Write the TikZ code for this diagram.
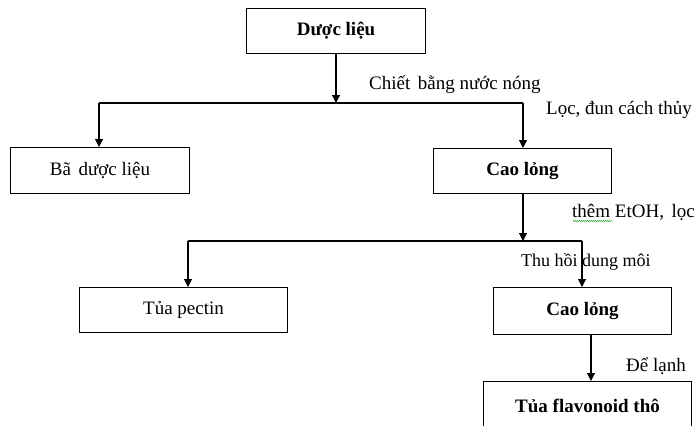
\documentclass[tikz,border=0pt]{standalone}
\usepackage{fontspec}
\setmainfont{Liberation Serif}
\usetikzlibrary{arrows.meta,decorations.pathmorphing}
\newcommand{\wsp}{\hspace{0.4em}}
\begin{document}
\begin{tikzpicture}[x=1pt,y=-1pt,
  every node/.style={font=\fontsize{19}{21}\selectfont},
  box/.style={draw, line width=1.1pt, inner sep=0pt, anchor=north west},
  lbl/.style={anchor=west, inner sep=0pt},
  link/.style={line width=1.1pt},
  arr/.style={line width=1.1pt, -{Triangle[length=8pt,width=8pt]}}]
\useasboundingbox (0,0) rectangle (697,426);

% boxes
\node[box, minimum width=179pt, minimum height=45pt] (dl) at (246,8) {\textbf{Dược liệu}};
\node[box, minimum width=179pt, minimum height=46pt] (bd) at (10,147) {Bã\wsp dược liệu};
\node[box, minimum width=178pt, minimum height=45pt] (cl1) at (433,148) {\textbf{Cao lỏng}};
\node[box, minimum width=208pt, minimum height=45pt] (tp) at (79,287) {\raisebox{2pt}{Tủa pectin}};
\node[box, minimum width=178pt, minimum height=47pt] (cl2) at (493,287) {\textbf{Cao lỏng}};
\node[box, minimum width=208pt, minimum height=48pt] (tf) at (483,381) {\textbf{Tủa flavonoid thô}};

% junctions of the branching lines
\coordinate (j1) at (336,103);
\coordinate (a1) at (99,103);
\coordinate (b1) at (523,103);
\coordinate (j2) at (523,241);
\coordinate (a2) at (188,241);
\coordinate (b2) at (582,241);

% first split
\draw[arr] (dl.south -| j1) -- (j1);
\draw[link] (a1) -- (b1);
\draw[arr] (a1) -- (a1 |- bd.north);
\draw[arr] (b1) -- (b1 |- cl1.north);

% second split
\draw[arr] (cl1.south -| j2) -- (j2);
\draw[link] (a2) -- (b2);
\draw[arr] (a2) -- (a2 |- tp.north);
\draw[arr] (b2) -- (b2 |- cl2.north);

% cooling step
\coordinate (c3) at (591,334);
\draw[arr] (c3 |- cl2.south) -- (c3 |- tf.north);

% step labels
\node[lbl] (l1) at (369,85) {Chiết\wsp bằng nước nóng};
\node[lbl] (l2) at (546,110) {Lọc, đun cách thủy};
\node[lbl] (l3) at (572,212) {thêm EtOH,\wsp lọc};
\node[lbl, font=\fontsize{18}{20}\selectfont] (l4) at (521,262) {Thu hồi dung môi};
\node[lbl] (l5) at (626,366) {Để lạnh};

% proofing squiggle under the first word
\draw[green!60!black!70, line width=0.6pt, decorate,
  decoration={zigzag, segment length=2pt, amplitude=0.6pt}]
  (573,221) -- (612,221);
\end{tikzpicture}
\end{document}
